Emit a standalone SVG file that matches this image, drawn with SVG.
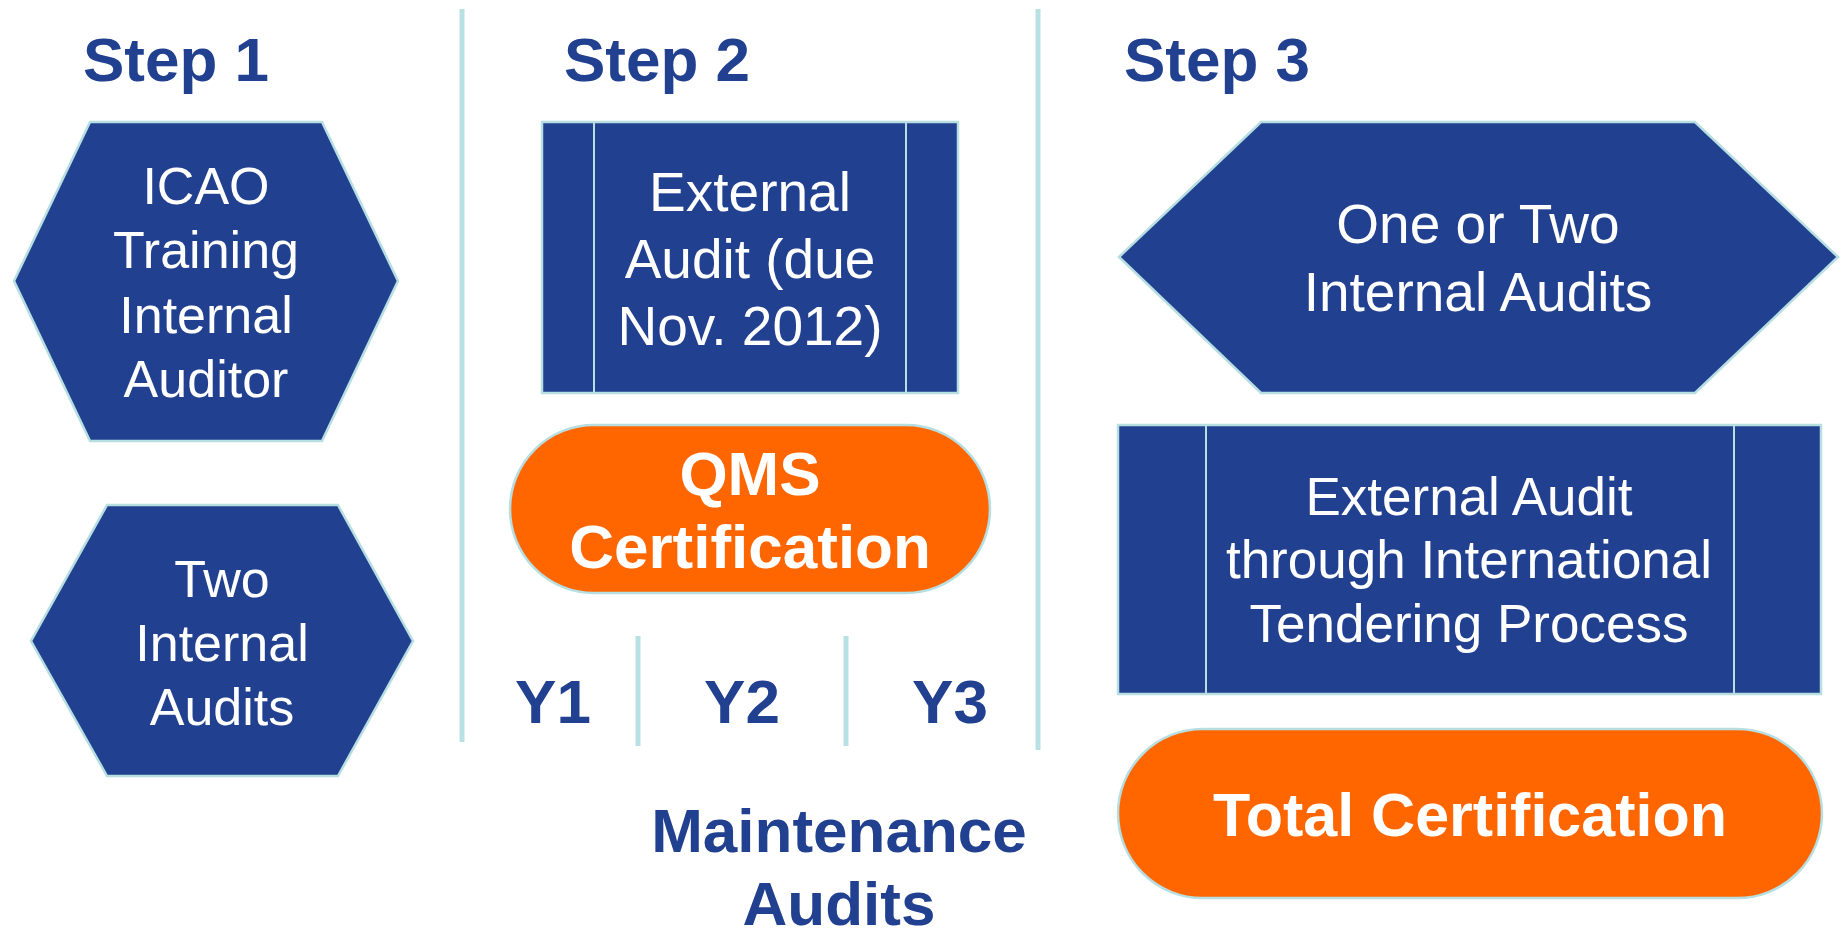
<svg xmlns="http://www.w3.org/2000/svg" width="1847" height="928" viewBox="0 0 1847 928">
<style>
.navy{fill:#21408F;stroke:#B7DEE1;stroke-width:2.5}
.orange{fill:#FF6600;stroke:#B7DEE1;stroke-width:2.5}
.div{stroke:#B9E0E3;stroke-width:5;fill:none}
.inner{stroke:#B7DEE1;stroke-width:2;fill:none}
.head{font-family:"Liberation Sans",Arial,sans-serif;font-weight:bold;fill:#21408F}
.wt{font-family:"Liberation Sans",Arial,sans-serif;fill:#FFFFFF;text-anchor:middle}
.wb{font-family:"Liberation Sans",Arial,sans-serif;font-weight:bold;fill:#FFFFFF;text-anchor:middle}
</style>
<rect width="1847" height="928" fill="#FFFFFF"/>
<g id="dividers">
<line class="div" x1="462" y1="9" x2="462" y2="742"/>
<line class="div" x1="1038" y1="9" x2="1038" y2="750"/>
<line class="div" x1="638" y1="636" x2="638" y2="746"/>
<line class="div" x1="846" y1="636" x2="846" y2="746"/>
</g>
<g id="headings">
<text class="head" x="83" y="81" font-size="62">Step 1</text>
<text class="head" x="564" y="81" font-size="62">Step 2</text>
<text class="head" x="1124" y="81" font-size="62">Step 3</text>
</g>
<g id="icao-training">
<polygon class="navy" points="90,122 322,122 398,281 322,441 90,441 14,281"/>
<text class="wt" font-size="52"><tspan x="206" y="204">ICAO</tspan><tspan x="206" y="268">Training</tspan><tspan x="206" y="333">Internal</tspan><tspan x="206" y="397">Auditor</tspan></text>
</g>
<g id="two-internal-audits">
<polygon class="navy" points="107,505 338,505 413,641 338,776 107,776 31,641"/>
<text class="wt" font-size="52"><tspan x="222" y="597">Two</tspan><tspan x="222" y="661">Internal</tspan><tspan x="222" y="725">Audits</tspan></text>
</g>
<g id="external-audit-2012">
<rect class="navy" x="542" y="122" width="416" height="271"/>
<line class="inner" x1="594" y1="123" x2="594" y2="392"/>
<line class="inner" x1="906" y1="123" x2="906" y2="392"/>
<text class="wt" font-size="55"><tspan x="750" y="211">External</tspan><tspan x="750" y="278">Audit (due</tspan><tspan x="750" y="345">Nov. 2012)</tspan></text>
</g>
<g id="qms-certification">
<rect class="orange" x="510" y="425" width="480" height="168" rx="84" ry="84"/>
<text class="wb" font-size="62"><tspan x="750" y="495">QMS</tspan><tspan x="750" y="568">Certification</tspan></text>
</g>
<g id="years">
<text class="head" x="553" y="723" font-size="62" text-anchor="middle">Y1</text>
<text class="head" x="742" y="723" font-size="62" text-anchor="middle">Y2</text>
<text class="head" x="950" y="723" font-size="62" text-anchor="middle">Y3</text>
</g>
<g id="maintenance-audits">
<text class="head" font-size="62" text-anchor="middle"><tspan x="839" y="852">Maintenance</tspan><tspan x="839" y="925">Audits</tspan></text>
</g>
<g id="one-or-two-internal-audits">
<polygon class="navy" points="1261,122 1695,122 1838,257 1695,393 1261,393 1119,257"/>
<text class="wt" font-size="55"><tspan x="1478" y="243">One or Two</tspan><tspan x="1478" y="311">Internal Audits</tspan></text>
</g>
<g id="external-audit-international">
<rect class="navy" x="1118" y="425" width="703" height="269"/>
<line class="inner" x1="1206" y1="426" x2="1206" y2="693"/>
<line class="inner" x1="1734" y1="426" x2="1734" y2="693"/>
<text class="wt" font-size="53"><tspan x="1469" y="515">External Audit</tspan><tspan x="1469" y="578">through International</tspan><tspan x="1469" y="642">Tendering Process</tspan></text>
</g>
<g id="total-certification">
<rect class="orange" x="1118" y="729" width="704" height="169" rx="84.5" ry="84.5"/>
<text class="wb" font-size="61" x="1470" y="836">Total Certification</text>
</g>
<g id="connectors"></g>
</svg>
